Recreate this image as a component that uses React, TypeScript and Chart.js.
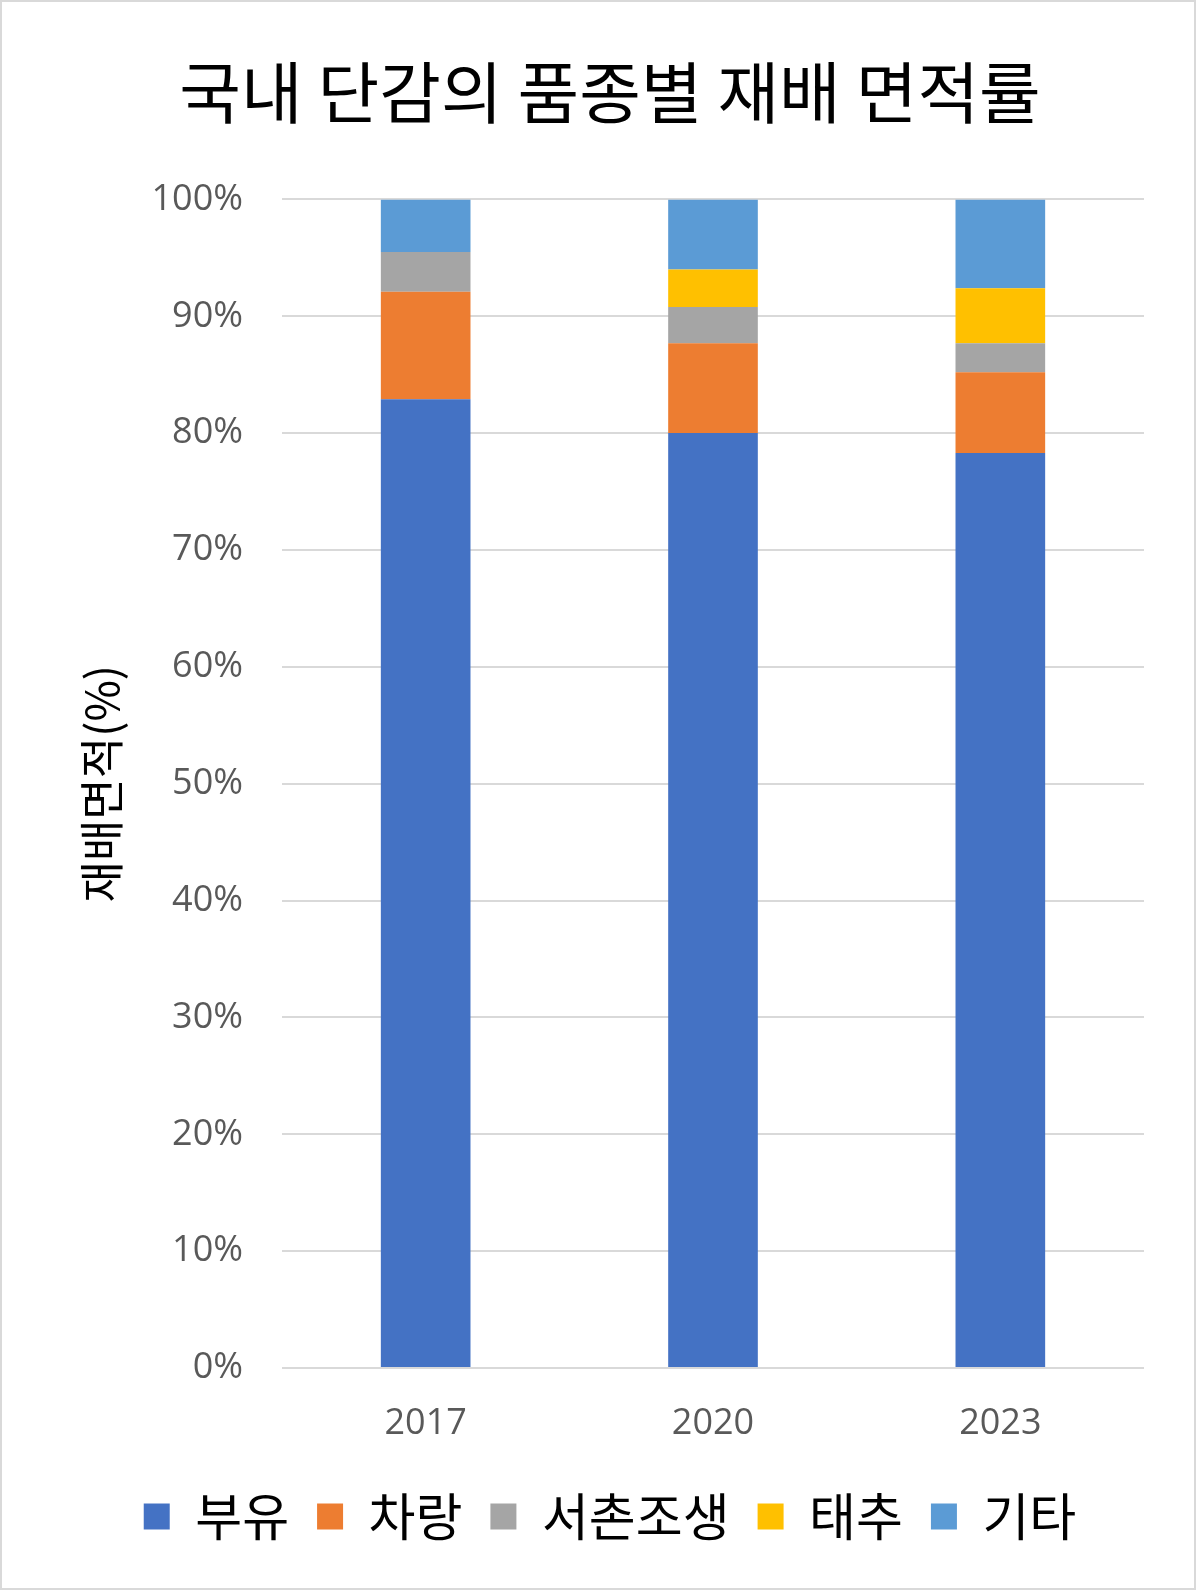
import React, { useEffect, useRef } from "react";
import { Chart, registerables } from "chart.js";

Chart.register(...registerables);

const years = ["2017", "2020", "2023"];
const buyu = [82.9, 80.0, 78.3];
const charang = [9.2, 7.7, 6.9];
const seochon = [3.4, 3.1, 2.5];
const taechu = [0, 3.2, 4.7];
const others = [4.5, 6.0, 7.6];
const seriesNames = ["부유", "차랑", "서촌조생", "태추", "기타"];
const seriesColors = ["#4472C4", "#ED7D31", "#A5A5A5", "#FFC000", "#5B9BD5"];
const yTicks = [0, 10, 20, 30, 40, 50, 60, 70, 80, 90, 100];

const KR = '"Noto Sans CJK KR", "Noto Sans", sans-serif';
const NUM = '"Open Sans", "Noto Sans", sans-serif';

export default function App() {
  const ref = useRef<HTMLCanvasElement | null>(null);

  useEffect(() => {
    document.body.style.margin = "0";
    const canvas = ref.current;
    if (!canvas) return;
    const values = [buyu, charang, seochon, taechu, others];
    const chart = new Chart(canvas, {
      type: "bar",
      data: {
        labels: years,
        datasets: seriesNames.map((name, i) => ({
          label: name,
          data: values[i],
          backgroundColor: seriesColors[i],
          borderWidth: 0,
          barPercentage: 0.312,
          categoryPercentage: 1,
        })),
      },
      options: {
        responsive: false,
        animation: false,
        devicePixelRatio: 1,
        layout: { padding: { left: 24, right: 0, top: 0, bottom: 36 } },
        plugins: {
          title: {
            display: true,
            text: "국내 단감의 품종별 재배 면적률",
            color: "#000000",
            font: { family: KR, size: 67, weight: "normal" },
            padding: { top: 50, bottom: 67 },
          },
          legend: {
            position: "bottom",
            labels: {
              color: "#000000",
              font: { family: KR, size: 51 },
              boxWidth: 26,
              boxHeight: 26,
              padding: 28,
            },
          },
          tooltip: { enabled: false },
        },
        scales: {
          x: {
            stacked: true,
            grid: { display: false },
            border: { display: false },
            ticks: {
              color: "#595959",
              font: { family: NUM, size: 36 },
              padding: 26,
            },
            afterFit: (scale: any) => {
              scale.height = 95;
            },
          },
          y: {
            stacked: true,
            min: 0,
            max: 100,
            afterBuildTicks: (scale: any) => {
              scale.ticks = yTicks.map((v) => ({ value: v }));
            },
            grid: { color: "#D9D9D9", lineWidth: 2, drawTicks: false },
            border: { display: false },
            ticks: {
              color: "#595959",
              font: { family: NUM, size: 36 },
              padding: 39,
              callback: (v: any) => v + "%",
            },
            title: {
              display: true,
              text: "재배면적(%)",
              color: "#000000",
              font: { family: KR, size: 45 },
              padding: { top: 49, bottom: 0 },
            },
            afterFit: (scale: any) => {
              scale.width = 256;
            },
          },
          yRight: {
            type: "linear",
            position: "right",
            min: 0,
            max: 100,
            grid: { display: false, drawTicks: false },
            border: { display: false },
            ticks: { display: false },
            afterFit: (scale: any) => {
              scale.width = 50;
            },
          },
        },
      },
    });
    return () => chart.destroy();
  }, []);

  return (
    <div
      style={{
        position: "absolute",
        left: 0,
        top: 0,
        width: 1196,
        height: 1590,
        border: "2px solid #D9D9D9",
        boxSizing: "border-box",
        background: "#ffffff",
      }}
    >
      <canvas ref={ref} width={1192} height={1586} style={{ display: "block" }} />
    </div>
  );
}
